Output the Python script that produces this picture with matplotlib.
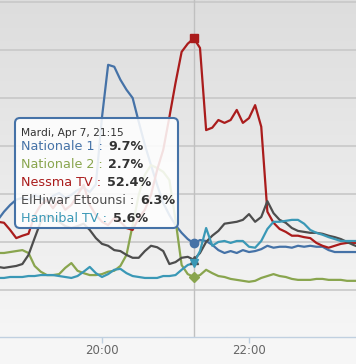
import numpy as np
import pandas as pd
import matplotlib
matplotlib.use("Agg")
import matplotlib.pyplot as plt
import matplotlib.dates as mdates
from matplotlib.patches import FancyBboxPatch

# 5-minute audience shares (%), 18:35 -> 23:30
times = pd.date_range("2015-04-07 18:35", "2015-04-07 23:30", freq="5min")

nationale1 = [14.6, 16.3, 17.7, 18.8, 19.2, 18.8, 19.8, 19.2, 18.3, 19.6, 20.2, 19.2, 19.8, 20.8, 21.3, 20.4, 22.0,
              36.0, 46.9, 46.5, 43.8, 41.7, 40.0, 35.0, 30.2, 26.0, 21.9, 18.1, 15.6, 13.5, 11.9, 10.6,
              9.7,
              10.4, 10.2, 9.4, 8.3, 7.7, 8.1, 7.7, 8.3, 7.9, 8.1, 8.5, 9.2, 8.8, 9.0, 9.0, 8.8, 9.2, 9.0, 9.2,
              9.0, 9.0, 8.3, 7.9, 7.9, 7.9, 7.9, 7.9]
nationale2 = [7.7, 7.7, 7.9, 8.1, 8.3, 7.7, 5.0, 3.8, 3.1, 3.1, 3.3, 4.6, 5.6, 4.0, 3.5, 3.1, 3.1,
              3.3, 3.8, 4.0, 5.0, 7.3, 13.5, 19.8, 24.0, 26.0, 25.4, 24.6, 22.9, 14.6, 5.2, 3.3,
              2.7,
              3.1, 4.2, 3.5, 2.9, 2.7, 2.3, 2.1, 1.9, 1.7, 1.9, 2.5, 2.9, 3.3, 2.9, 2.7, 2.3, 2.1, 2.1, 2.1,
              2.3, 2.3, 2.1, 2.1, 2.1, 1.9, 1.9, 1.9]
nessma = [14.2, 14.0, 12.5, 10.8, 11.3, 11.7, 15.6, 17.7, 18.8, 17.0, 18.8, 16.7, 17.7, 19.8, 21.9, 17.7, 15.6,
          14.2, 13.5, 15.0, 14.2, 12.9, 12.5, 15.0, 16.7, 19.8, 25.0, 29.2, 36.0, 43.1, 49.6, 51.3,
          52.4,
          50.4, 33.3, 33.8, 35.4, 34.8, 35.4, 37.5, 34.8, 35.8, 38.5, 34.0, 16.3, 14.0, 12.7, 12.1, 11.3, 11.3,
          11.0, 10.8, 9.8, 9.2, 8.8, 9.2, 9.6, 9.8, 9.8, 9.8]
elhiwar = [4.8, 4.6, 4.8, 5.0, 5.4, 7.3, 10.8, 14.2, 15.6, 15.0, 14.2, 13.3, 12.9, 13.3, 13.8, 12.5, 10.8,
           9.6, 9.2, 8.3, 8.1, 7.3, 6.7, 6.7, 8.1, 9.2, 8.9, 8.1, 5.4, 5.8, 6.7, 6.9,
           6.3,
           7.7, 10.0, 11.3, 12.3, 13.8, 14.0, 14.2, 14.6, 15.8, 14.2, 15.2, 18.5, 16.0, 14.6, 14.0, 12.9, 12.3,
           12.1, 11.9, 11.9, 11.7, 11.3, 11.0, 10.6, 10.0, 9.4, 8.9]
hannibal = [2.5, 2.5, 2.7, 2.7, 2.7, 2.9, 2.9, 3.1, 3.1, 3.1, 2.9, 2.7, 2.5, 2.9, 3.8, 4.8, 3.5,
            2.7, 3.3, 4.2, 4.4, 3.5, 2.9, 2.7, 2.5, 2.5, 2.5, 2.9, 2.9, 3.1, 4.2, 5.2,
            5.6,
            8.1, 12.9, 9.2, 10.0, 10.2, 9.8, 10.2, 10.2, 9.0, 8.8, 10.2, 12.7, 14.2, 14.2, 14.4, 14.6, 14.6,
            13.8, 12.5, 11.9, 11.5, 11.0, 10.6, 10.2, 10.2, 10.2, 10.2]

names = ["Nationale 1", "Nationale 2", "Nessma TV", "ElHiwar Ettounsi", "Hannibal TV"]
series = [nationale1, nationale2, nessma, elhiwar, hannibal]
colors = ["#4572A7", "#89A54E", "#AA1C1C", "#4D4D4D", "#3A98B6"]
markers = ["o", "D", "s", "^", "v"]
hover_time = pd.Timestamp("2015-04-07 21:15")
hover_label = "Mardi, Apr 7, 21:15"

fig = plt.figure(figsize=(3.56, 3.64), dpi=100, facecolor="#f6f6f6")
ax = fig.add_axes([0, 27 / 364, 1, 337 / 364])

# background gradient
grad = np.linspace(0, 1, 256).reshape(-1, 1)
ax.imshow(grad, cmap=plt.matplotlib.colors.LinearSegmentedColormap.from_list("bg", ["#dddddd", "#f6f6f6"]),
          extent=[0, 1, 0, 1], transform=ax.transAxes, aspect="auto", zorder=0, origin="upper")

t0 = mdates.date2num(pd.Timestamp("2015-04-07 20:00"))
px = 1 / (73.5 * 24)  # days per pixel
ax.set_xlim(t0 - 102 * px, t0 + 254 * px)
ax.set_ylim(-9.8, 60.4)

for v in range(0, 61, 10):
    ax.axhline(v, color="#c8c8c8", lw=1.2, zorder=1)
ax.axvline(hover_time, color="#c0c0c0", lw=1.0, zorder=1)

idx = list(times).index(hover_time)
for name, vals, c, m in zip(names, series, colors, markers):
    ax.plot(times, vals, color=c, lw=1.6, zorder=3, solid_joinstyle="round")
    ax.plot([times[idx]], [vals[idx]], marker=m, color=c, ms=6 if m != "D" else 5, zorder=4, mec=c)

ax.xaxis.set_major_locator(mdates.HourLocator(byhour=[20, 22]))
ax.xaxis.set_major_formatter(mdates.DateFormatter("%H:%M"))
ax.tick_params(axis="x", colors="#C0D0E0", length=4, width=1, pad=1, labelcolor="#666666", labelsize=8.5)
ax.set_yticks([])
for s in ["top", "left", "right"]:
    ax.spines[s].set_visible(False)
ax.spines["bottom"].set_color("#C0D0E0")
ax.spines["bottom"].set_linewidth(1)

# tooltip overlay in pixel coordinates
tip = fig.add_axes([0, 0, 1, 1], zorder=10)
tip.set_xlim(0, 356)
tip.set_ylim(364, 0)
tip.axis("off")
tip.patch.set_visible(False)
tip.add_patch(FancyBboxPatch((15, 118), 163, 110, boxstyle="round,pad=0,rounding_size=5",
                             fc=(1, 1, 1, 0.87), ec="#4572A7", lw=1.5))
tip.text(21, 133, hover_label, fontsize=7.7, color="#333333", va="center", ha="left")
row_y = [147, 165, 182, 200, 218]
for name, vals, c, y in zip(names, series, colors, row_y):
    t = tip.text(21, y, name + " :", fontsize=9.2, color=c, va="center", ha="left")
    tip.annotate(f"{vals[idx]:.1f}%", xy=(1, 0), xycoords=t, xytext=(4, 0), textcoords="offset points",
                 fontsize=9.2, fontweight="bold", color="#333333", va="bottom", ha="left")

fig.savefig("out.png", dpi=100, facecolor=fig.get_facecolor())
